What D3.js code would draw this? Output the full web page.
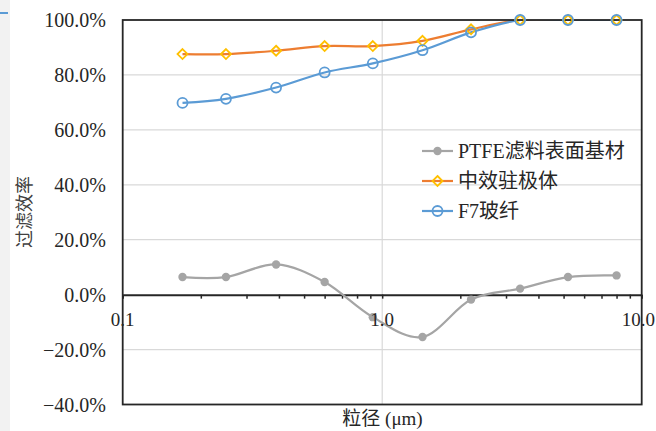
<!DOCTYPE html>
<html>
<head>
<meta charset="utf-8">
<script src="https://cdn.jsdelivr.net/npm/d3@7"></script>
<style>
  html, body { margin: 0; padding: 0; background: #ffffff; }
  svg { display: block; }
</style>
</head>
<body>
<svg id="chart" width="656" height="431"></svg>
<script>
// ---- data ----
const sizes = [0.17, 0.25, 0.39, 0.6, 0.92, 1.43, 2.2, 3.4, 5.2, 8.0];
const ptfe  = [6.4, 6.4, 11.0, 4.6, -8.2, -15.4, -1.8, 2.2, 6.4, 7.0];
const mid   = [87.6, 87.6, 88.8, 90.5, 90.5, 92.4, 96.6, 100, 100, 100];
const f7    = [69.8, 71.3, 75.4, 80.9, 84.2, 89.0, 95.5, 100, 100, 100];
const seriesNames = ["PTFE滤料表面基材", "中效驻极体", "F7玻纤"];
const yTicks = [-40, -20, 0, 20, 40, 60, 80, 100];
const xTicks = [0.1, 1, 10];
const xTickLabels = ["0.1", "1.0", "10.0"];
const xTitle = "粒径 (μm)";
const yTitle = "过滤效率";

// ---- layout ----
const svg = d3.select("#chart");
const L = 122.7, R = 641.7, T = 20, B = 404.5;
const x = d3.scaleLog().domain([0.1, 10]).range([L, R]);
const y = d3.scaleLinear().domain([-40, 100]).range([B, T]);
const font = "'Liberation Serif', 'Times New Roman', 'Noto Sans CJK SC', serif";
const textColor = "#262626";

svg.append("defs").append("clipPath").attr("id", "plotclip")
  .append("rect").attr("x", L).attr("y", T).attr("width", R - L).attr("height", B - T);

// left strip artifact
svg.append("rect").attr("x", 0).attr("y", 0).attr("width", 10).attr("height", 431).attr("fill", "#f2f2f2");
svg.append("line").attr("x1", 0).attr("x2", 8).attr("y1", 13).attr("y2", 13)
  .attr("stroke", "#5B9BD5").attr("stroke-width", 2);

// gridlines
const g = svg.append("g");
g.selectAll("line.hg").data(yTicks.filter(d => d !== 0 && d !== 100 && d !== -40)).join("line")
  .attr("x1", L).attr("x2", R).attr("y1", d => y(d)).attr("y2", d => y(d))
  .attr("stroke", "#d9d9d9").attr("stroke-width", 1.2);
g.append("line").attr("x1", x(1)).attr("x2", x(1)).attr("y1", T).attr("y2", B)
  .attr("stroke", "#d9d9d9").attr("stroke-width", 1.2);

// zero axis with minor log ticks
const minor = [];
[0.1, 1].forEach(dec => { for (let k = 1; k <= 9; k++) minor.push(dec * k); });
minor.push(10);
const axis = d3.axisBottom(x).tickValues(minor).tickFormat("").tickSizeInner(4).tickSizeOuter(0);
const axG = svg.append("g").attr("transform", `translate(0,${y(0)})`).call(axis);
axG.select(".domain").attr("stroke", "#262626").attr("stroke-width", 2);
axG.selectAll(".tick line").attr("stroke", "#262626").attr("stroke-width", 1.5);

// series
const line = d3.line().x(d => x(d[0])).y(d => y(d[1])).curve(d3.curveCardinal.tension(0));
const series = [
  { name: seriesNames[0], vals: ptfe, color: "#A5A5A5", marker: "dot" },
  { name: seriesNames[1], vals: mid, color: "#ED7D31", marker: "diamond" },
  { name: seriesNames[2], vals: f7, color: "#5B9BD5", marker: "circle" }
];
function drawMarker(sel, s, cx, cy) {
  if (s.marker === "dot") {
    sel.append("circle").attr("cx", cx).attr("cy", cy).attr("r", 4.2).attr("fill", "#A5A5A5");
  } else if (s.marker === "diamond") {
    const r = 5;
    sel.append("path").attr("d", `M${cx},${cy - r}L${cx + r},${cy}L${cx},${cy + r}L${cx - r},${cy}Z`)
      .attr("fill", "none").attr("stroke", "#FFC000").attr("stroke-width", 1.8);
  } else {
    sel.append("circle").attr("cx", cx).attr("cy", cy).attr("r", 5)
      .attr("fill", "none").attr("stroke", "#5B9BD5").attr("stroke-width", 1.8);
  }
}
const lineLayer = svg.append("g").attr("clip-path", "url(#plotclip)");
const frameLayer = svg.append("g");
const markerLayer = svg.append("g");
series.forEach(s => {
  const pts = sizes.map((sz, i) => [sz, s.vals[i]]);
  lineLayer.append("path").attr("d", line(pts)).attr("fill", "none")
    .attr("stroke", s.color).attr("stroke-width", 2.2).attr("stroke-linejoin", "round");
});
// frame
frameLayer.append("rect").attr("x", L).attr("y", T).attr("width", R - L).attr("height", B - T)
  .attr("fill", "none").attr("stroke", "#262626").attr("stroke-width", 1.8);
series.forEach(s => {
  const sg = markerLayer.append("g");
  sizes.forEach((sz, i) => drawMarker(sg, s, x(sz), y(s.vals[i])));
});

// y tick labels
svg.append("g").selectAll("text").data(yTicks).join("text")
  .attr("x", 106).attr("y", d => y(d)).attr("dy", "0.36em")
  .attr("text-anchor", "end").attr("font-family", font).attr("font-size", 20)
  .attr("fill", textColor).text(d => d3.format(".1f")(d) + "%");

// x tick labels
svg.append("g").selectAll("text").data(xTicks).join("text")
  .attr("x", (d, i) => i === xTicks.length - 1 ? 655 : x(d)).attr("y", 326)
  .attr("text-anchor", (d, i) => i === xTicks.length - 1 ? "end" : "middle")
  .attr("font-family", font).attr("font-size", 19)
  .attr("fill", textColor).text((d, i) => xTickLabels[i]);

// axis titles
svg.append("text").attr("x", 382.5).attr("y", 425).attr("text-anchor", "middle")
  .attr("font-family", font).attr("font-size", 19).attr("fill", textColor).text(xTitle);
svg.append("text").attr("transform", "translate(31,212) rotate(-90)").attr("text-anchor", "middle")
  .attr("font-family", font).attr("font-size", 18).attr("fill", "#404040").text(yTitle);

// legend
const leg = svg.append("g");
const legRows = [151, 181, 211];
series.forEach((s, i) => {
  const ly = legRows[i];
  leg.append("line").attr("x1", 422).attr("x2", 453).attr("y1", ly).attr("y2", ly)
    .attr("stroke", s.color).attr("stroke-width", 2.2);
  drawMarker(leg, s, 437.5, ly);
  leg.append("text").attr("x", 458).attr("y", ly).attr("dy", "0.36em")
    .attr("font-family", font).attr("font-size", 20).attr("fill", textColor).text(s.name);
});
</script>
</body>
</html>
